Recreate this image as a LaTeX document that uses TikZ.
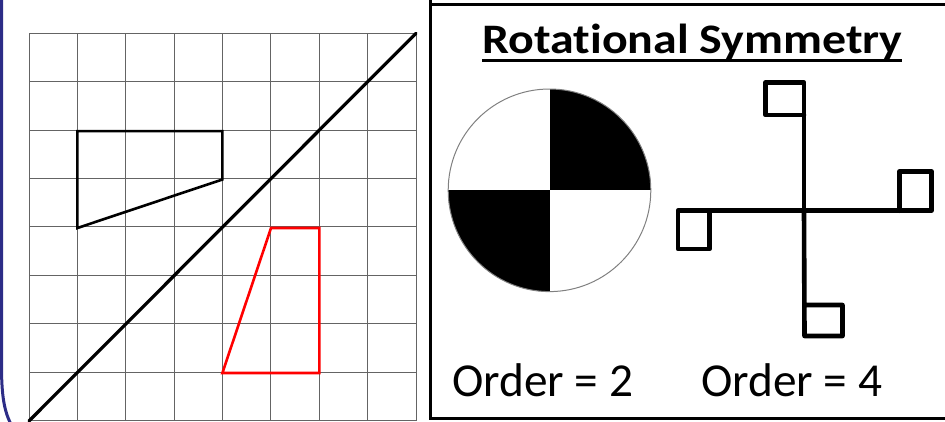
\documentclass[tikz,border=0pt]{standalone}
\usepackage{fontspec}
\usepackage{graphicx}
\setmainfont[Ligatures=NoCommon]{Carlito}
\definecolor{navy}{RGB}{45,45,135}
\definecolor{gridc}{RGB}{100,100,100}
\begin{document}
\begin{tikzpicture}[x=1pt,y=-1pt,
  gridline/.style={draw=gridc,line width=1pt},
  shapeline/.style={line width=2.6pt,line join=miter},
  crossline/.style={line width=4.6pt,line join=round,line cap=round},
  txt/.style={inner sep=0pt,anchor=base west,font=\fontsize{47.3}{50}\selectfont}]
\useasboundingbox (0,0) rectangle (945,421);
% blue frame edge
\draw[navy,line width=3pt] (1.5,-5) -- (1.5,365) .. controls (1.5,395) and (4,412) .. (12,426);
% grid
\foreach \i in {0,...,8} {
  \draw[gridline] ({29+48.375*\i},33.3) -- ({29+48.375*\i},421);
  \draw[gridline] (29,{33.3+48.42*\i}) -- (416,{33.3+48.42*\i});
}
% diagonal mirror line
\coordinate (d1) at (29,421);
\coordinate (d2) at (416,33.3);
\draw[line width=3.2pt,line cap=round] (d1) -- (d2);
% black shape
\draw[shapeline] (77.4,131.1) -- (222.4,131.1) -- (222.4,179.5) -- (77.4,228) -- cycle;
% red image
\draw[shapeline,red] (271,228) -- (319.3,228) -- (319.3,373) -- (222.4,373) -- cycle;
% right panel
\draw[line width=3pt] (430,-5) -- (430,418.3) -- (950,418.3);
\draw[line width=3pt] (430,4.3) -- (950,4.3);
% title
\node[inner sep=0pt,anchor=base,font=\fontsize{42}{44}\bfseries\selectfont] (title) at (692.5,53.3) {\scalebox{1.14}[1]{Rotat\kern0pt ional Symmetry}};
\draw[line width=2.5pt] (482,60.5) -- (902,60.5);
% circle
\coordinate (c) at (549.5,190.3);
\begin{scope}
\clip (c) circle[radius=101.3pt];
\fill (c) rectangle ++(110,-110);
\fill (c) rectangle ++(-110,110);
\end{scope}
\draw[gray,line width=1pt] (c) circle[radius=101.3pt];
% cross
\coordinate (x) at (804,210.7);
\draw[crossline] (x) -- (804,82.5) -- (765.5,82.5) -- (765.5,115) -- (804,115);
\draw[crossline] (x) -- (931.5,210.7) -- (931.5,171.7) -- (899.5,171.7) -- (899.5,210.7);
\draw[crossline] (x) -- (804.5,336) -- (842.5,336) -- (842.5,305) -- (804.5,305);
\draw[crossline] (x) -- (678,210.7) -- (678,249) -- (709.5,249) -- (709.5,210.7);
% labels
\node[txt] (o2) at (452,396.7) {Order = 2};
\node[txt] (o4) at (701,396.7) {Order = 4};
\end{tikzpicture}
\end{document}
